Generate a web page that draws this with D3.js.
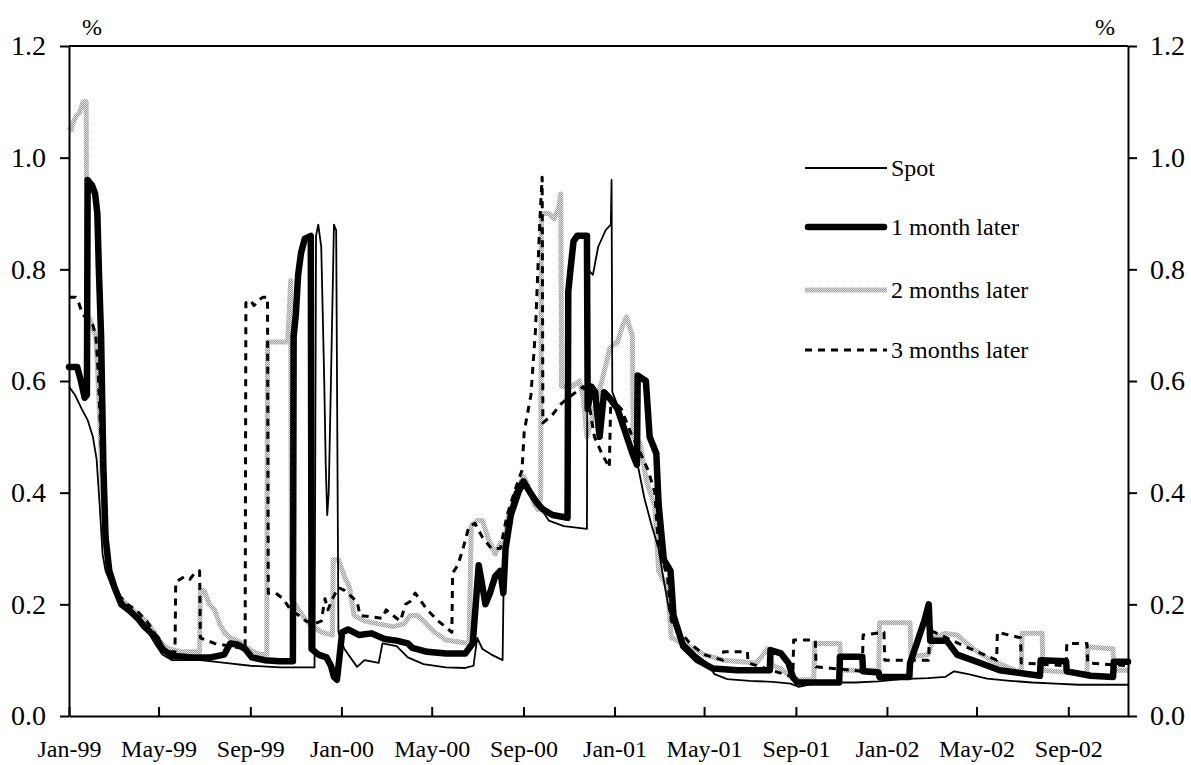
<!DOCTYPE html>
<html>
<head>
<meta charset="utf-8">
<script src="https://cdn.jsdelivr.net/npm/d3@7"></script>
<style>
  body { margin: 0; background: #fff; }
  svg { display: block; font-family: "Liberation Serif", "Times New Roman", serif; }
  .axis path, .axis line { stroke: #000; stroke-width: 2; }
  .axis text { fill: #000; }
  .series { fill: none; stroke-linejoin: round; }
  .spot { stroke: #000; stroke-width: 1.8; }
  .m1 { stroke: #000; stroke-width: 6.5; stroke-linecap: round; }
  .m2 { stroke: url(#stipple); stroke-width: 5; }
  .m3 { stroke: #000; stroke-width: 3; stroke-dasharray: 7 6; }
</style>
</head>
<body>
<svg id="chart"></svg>
<script>
// ---- data ----
const spot = [
  ["1999-01-01",0.59],["1999-01-09",0.575],["1999-01-18",0.55],["1999-01-26",0.53],["1999-02-02",0.50],
  ["1999-02-07",0.46],["1999-02-11",0.38],["1999-02-15",0.29],["1999-02-19",0.26],["1999-02-25",0.24],
  ["1999-03-04",0.22],["1999-03-17",0.20],["1999-04-01",0.18],["1999-04-15",0.155],["1999-04-26",0.13],
  ["1999-05-06",0.11],["1999-05-19",0.10],["1999-06-26",0.10],["1999-07-29",0.095],["1999-09-01",0.09],
  ["1999-10-11",0.087],["1999-11-26",0.087],["1999-11-28",0.86],["1999-12-01",0.88],["1999-12-05",0.84],
  ["1999-12-09",0.60],["1999-12-11",0.45],["1999-12-13",0.36],["1999-12-15",0.40],["1999-12-18",0.60],
  ["1999-12-22",0.88],["1999-12-25",0.87],["1999-12-28",0.15],["2000-01-05",0.12],["2000-01-22",0.088],
  ["2000-02-01",0.10],["2000-02-20",0.095],["2000-02-25",0.13],["2000-03-15",0.125],["2000-03-30",0.105],
  ["2000-04-20",0.093],["2000-05-20",0.087],["2000-06-15",0.086],["2000-06-26",0.09],["2000-07-01",0.14],
  ["2000-07-08",0.12],["2000-07-20",0.11],["2000-08-04",0.10],["2000-08-06",0.30],["2000-08-13",0.36],
  ["2000-08-20",0.40],["2000-08-28",0.42],["2000-09-05",0.41],["2000-09-15",0.39],["2000-09-25",0.37],
  ["2000-10-05",0.35],["2000-10-25",0.34],["2000-11-25",0.335],["2000-11-26",0.80],["2000-12-03",0.79],
  ["2000-12-10",0.84],["2000-12-20",0.87],["2000-12-27",0.88],["2000-12-28",0.96],["2000-12-29",0.58],
  ["2001-01-10",0.54],["2001-01-20",0.50],["2001-02-01",0.45],["2001-02-10",0.39],["2001-02-20",0.34],
  ["2001-03-01",0.30],["2001-03-07",0.25],["2001-03-15",0.19],["2001-03-25",0.15],["2001-04-05",0.13],
  ["2001-04-20",0.11],["2001-05-05",0.095],["2001-05-15",0.075],["2001-06-01",0.066],["2001-07-01",0.063],
  ["2001-08-01",0.061],["2001-08-25",0.058],["2001-09-05",0.052],["2001-09-25",0.058],["2001-10-20",0.06],
  ["2001-11-20",0.06],["2001-12-20",0.062],["2002-01-20",0.066],["2002-02-25",0.068],["2002-03-20",0.07],
  ["2002-04-01",0.08],["2002-04-20",0.075],["2002-05-15",0.067],["2002-06-15",0.063],["2002-07-15",0.06],
  ["2002-08-15",0.058],["2002-09-15",0.056],["2002-11-20",0.056]
];

const oneMonth = [
  ["1999-01-01",0.625],["1999-01-12",0.625],["1999-01-17",0.60],["1999-01-22",0.57],["1999-01-25",0.575],
  ["1999-01-26",0.96],["1999-02-01",0.95],["1999-02-05",0.935],["1999-02-08",0.90],["1999-02-10",0.80],
  ["1999-02-13",0.68],["1999-02-16",0.45],["1999-02-19",0.32],["1999-02-24",0.26],["1999-03-03",0.23],
  ["1999-03-12",0.20],["1999-03-22",0.19],["1999-04-03",0.175],["1999-04-12",0.16],["1999-04-20",0.15],
  ["1999-04-28",0.14],["1999-05-06",0.12],["1999-05-18",0.108],["1999-06-15",0.105],["1999-07-10",0.105],
  ["1999-07-28",0.11],["1999-08-05",0.13],["1999-08-15",0.128],["1999-08-25",0.12],["1999-09-03",0.105],
  ["1999-09-20",0.10],["1999-10-10",0.098],["1999-10-28",0.098],["1999-10-29",0.68],["1999-11-01",0.72],
  ["1999-11-04",0.79],["1999-11-08",0.83],["1999-11-13",0.855],["1999-11-21",0.86],["1999-11-22",0.12],
  ["1999-12-01",0.11],["1999-12-12",0.105],["1999-12-18",0.09],["1999-12-22",0.07],["1999-12-26",0.065],
  ["1999-12-29",0.10],["2000-01-02",0.15],["2000-01-10",0.155],["2000-01-25",0.145],["2000-02-10",0.148],
  ["2000-02-28",0.138],["2000-03-15",0.135],["2000-03-30",0.13],["2000-04-05",0.122],["2000-04-25",0.115],
  ["2000-05-20",0.112],["2000-06-15",0.112],["2000-06-25",0.13],["2000-06-29",0.20],["2000-07-03",0.27],
  ["2000-07-07",0.24],["2000-07-12",0.20],["2000-07-18",0.22],["2000-07-25",0.25],["2000-08-01",0.26],
  ["2000-08-05",0.22],["2000-08-08",0.30],["2000-08-15",0.36],["2000-08-25",0.40],["2000-09-01",0.42],
  ["2000-09-10",0.40],["2000-09-20",0.38],["2000-09-27",0.37],["2000-10-10",0.36],["2000-10-30",0.355],
  ["2000-10-31",0.76],["2000-11-03",0.80],["2000-11-07",0.85],["2000-11-12",0.86],["2000-11-25",0.86],
  ["2000-11-26",0.55],["2000-12-01",0.59],["2000-12-06",0.58],["2000-12-12",0.50],["2000-12-18",0.58],
  ["2000-12-25",0.57],["2001-01-05",0.55],["2001-01-15",0.51],["2001-01-25",0.47],["2001-01-31",0.45],
  ["2001-02-01",0.61],["2001-02-12",0.60],["2001-02-17",0.50],["2001-02-26",0.47],["2001-03-01",0.38],
  ["2001-03-08",0.28],["2001-03-17",0.26],["2001-03-21",0.18],["2001-04-03",0.125],["2001-04-22",0.10],
  ["2001-05-13",0.085],["2001-06-15",0.082],["2001-07-28",0.082],["2001-07-29",0.118],["2001-08-12",0.112],
  ["2001-08-22",0.095],["2001-08-28",0.07],["2001-09-03",0.06],["2001-10-29",0.06],["2001-10-30",0.106],
  ["2001-11-29",0.106],["2001-11-30",0.08],["2001-12-21",0.078],["2001-12-22",0.07],["2002-01-31",0.07],
  ["2002-02-01",0.095],["2002-02-10",0.13],["2002-02-20",0.17],["2002-02-26",0.20],["2002-02-28",0.135],
  ["2002-03-22",0.135],["2002-04-05",0.11],["2002-05-06",0.095],["2002-06-01",0.082],["2002-07-25",0.072],
  ["2002-07-26",0.10],["2002-08-29",0.098],["2002-08-30",0.08],["2002-10-01",0.072],["2002-10-31",0.07],
  ["2002-11-01",0.097],["2002-11-20",0.097]
];

const twoMonths = [
  ["1999-01-01",1.055],["1999-01-04",1.05],["1999-01-07",1.065],["1999-01-11",1.075],["1999-01-15",1.08],
  ["1999-01-20",1.10],["1999-01-24",1.10],["1999-01-25",0.72],["1999-01-29",0.71],["1999-02-03",0.69],
  ["1999-02-06",0.68],["1999-02-09",0.60],["1999-02-12",0.50],["1999-02-15",0.40],["1999-02-18",0.32],
  ["1999-02-22",0.27],["1999-03-01",0.235],["1999-03-10",0.21],["1999-03-20",0.20],["1999-04-01",0.185],
  ["1999-04-15",0.17],["1999-04-25",0.15],["1999-05-05",0.13],["1999-05-15",0.12],["1999-06-01",0.115],
  ["1999-06-25",0.115],["1999-06-26",0.225],["1999-07-01",0.225],["1999-07-08",0.20],["1999-07-15",0.19],
  ["1999-07-22",0.165],["1999-07-28",0.15],["1999-08-05",0.14],["1999-08-15",0.135],["1999-08-25",0.125],
  ["1999-09-05",0.115],["1999-09-15",0.11],["1999-09-23",0.11],["1999-09-24",0.67],["1999-10-21",0.67],
  ["1999-10-23",0.72],["1999-10-25",0.78],["1999-10-26",0.21],["1999-11-05",0.19],["1999-11-15",0.17],
  ["1999-11-25",0.16],["1999-12-05",0.15],["1999-12-20",0.145],["1999-12-21",0.28],["1999-12-28",0.28],
  ["2000-01-05",0.25],["2000-01-12",0.23],["2000-01-18",0.18],["2000-02-01",0.17],["2000-02-20",0.165],
  ["2000-03-10",0.16],["2000-03-25",0.165],["2000-04-02",0.18],["2000-04-12",0.18],["2000-04-20",0.17],
  ["2000-05-05",0.15],["2000-05-20",0.136],["2000-06-20",0.13],["2000-06-23",0.34],["2000-07-01",0.35],
  ["2000-07-08",0.35],["2000-07-15",0.32],["2000-07-25",0.29],["2000-08-01",0.31],["2000-08-05",0.30],
  ["2000-08-12",0.36],["2000-08-22",0.40],["2000-09-01",0.43],["2000-09-08",0.41],["2000-09-15",0.38],
  ["2000-09-20",0.37],["2000-09-24",0.39],["2000-09-25",0.90],["2000-10-05",0.90],["2000-10-12",0.89],
  ["2000-10-18",0.91],["2000-10-21",0.935],["2000-10-22",0.59],["2000-11-05",0.59],["2000-11-15",0.60],
  ["2000-11-20",0.57],["2000-11-25",0.50],["2000-12-05",0.55],["2000-12-15",0.60],["2000-12-26",0.66],
  ["2001-01-05",0.67],["2001-01-12",0.70],["2001-01-17",0.715],["2001-01-25",0.68],["2001-01-26",0.50],
  ["2001-02-04",0.49],["2001-02-13",0.42],["2001-02-24",0.375],["2001-03-01",0.26],["2001-03-13",0.23],
  ["2001-03-18",0.14],["2001-04-12",0.124],["2001-05-01",0.11],["2001-05-27",0.10],["2001-07-10",0.095],
  ["2001-07-25",0.12],["2001-08-01",0.09],["2001-08-12",0.085],["2001-08-28",0.065],["2001-09-25",0.065],
  ["2001-09-26",0.13],["2001-10-30",0.13],["2001-10-31",0.082],["2001-12-21",0.082],["2001-12-22",0.167],
  ["2002-02-01",0.167],["2002-02-02",0.106],["2002-02-25",0.11],["2002-03-05",0.14],["2002-03-20",0.148],
  ["2002-04-05",0.145],["2002-04-27",0.12],["2002-05-20",0.10],["2002-06-25",0.08],["2002-06-30",0.08],
  ["2002-07-01",0.148],["2002-07-28",0.148],["2002-07-29",0.082],["2002-09-26",0.075],["2002-09-27",0.124],
  ["2002-10-31",0.12],["2002-11-01",0.082],["2002-11-20",0.082]
];

const threeMonths = [
  ["1999-01-01",0.75],["1999-01-10",0.75],["1999-01-14",0.74],["1999-01-19",0.72],["1999-01-26",0.71],
  ["1999-02-02",0.70],["1999-02-06",0.68],["1999-02-09",0.62],["1999-02-12",0.52],["1999-02-15",0.42],
  ["1999-02-18",0.32],["1999-02-22",0.27],["1999-03-01",0.24],["1999-03-10",0.215],["1999-03-20",0.20],
  ["1999-04-01",0.19],["1999-04-15",0.17],["1999-04-25",0.15],["1999-05-05",0.125],["1999-05-15",0.115],
  ["1999-05-23",0.115],["1999-05-24",0.24],["1999-05-30",0.245],["1999-06-05",0.25],["1999-06-12",0.245],
  ["1999-06-18",0.255],["1999-06-25",0.26],["1999-06-26",0.14],["1999-07-15",0.13],["1999-08-05",0.125],
  ["1999-08-25",0.12],["1999-08-26",0.74],["1999-09-01",0.745],["1999-09-06",0.735],["1999-09-12",0.745],
  ["1999-09-18",0.75],["1999-09-24",0.75],["1999-09-25",0.22],["1999-10-05",0.22],["1999-10-15",0.21],
  ["1999-10-25",0.19],["1999-11-05",0.18],["1999-11-15",0.17],["1999-11-25",0.165],["1999-12-05",0.17],
  ["1999-12-10",0.21],["1999-12-14",0.19],["1999-12-20",0.21],["1999-12-28",0.23],["2000-01-05",0.225],
  ["2000-01-22",0.205],["2000-01-26",0.18],["2000-02-25",0.175],["2000-03-01",0.19],["2000-03-15",0.175],
  ["2000-03-20",0.17],["2000-03-27",0.20],["2000-04-02",0.205],["2000-04-09",0.22],["2000-04-25",0.19],
  ["2000-05-10",0.17],["2000-05-28",0.15],["2000-05-29",0.256],["2000-06-05",0.27],["2000-06-12",0.30],
  ["2000-06-20",0.34],["2000-06-28",0.345],["2000-07-08",0.32],["2000-07-20",0.30],["2000-08-01",0.30],
  ["2000-08-10",0.36],["2000-08-22",0.41],["2000-08-30",0.44],["2000-09-02",0.51],["2000-09-11",0.575],
  ["2000-09-17",0.69],["2000-09-20",0.79],["2000-09-23",0.89],["2000-09-26",0.965],["2000-09-27",0.525],
  ["2000-10-10",0.54],["2000-10-22",0.56],["2000-11-05",0.575],["2000-11-20",0.59],["2000-11-26",0.575],
  ["2000-12-05",0.50],["2000-12-15",0.47],["2000-12-25",0.445],["2000-12-27",0.57],["2001-01-10",0.55],
  ["2001-01-25",0.50],["2001-02-05",0.47],["2001-02-15",0.44],["2001-02-24",0.40],["2001-03-01",0.30],
  ["2001-03-13",0.25],["2001-03-18",0.17],["2001-04-12",0.13],["2001-05-01",0.11],["2001-05-26",0.10],
  ["2001-05-27",0.115],["2001-06-28",0.115],["2001-06-29",0.095],["2001-08-28",0.07],["2001-08-29",0.136],
  ["2001-09-27",0.136],["2001-09-28",0.088],["2001-11-29",0.08],["2001-11-30",0.145],["2001-12-28",0.15],
  ["2001-12-29",0.10],["2002-02-26",0.10],["2002-02-27",0.154],["2002-03-22",0.14],["2002-04-15",0.125],
  ["2002-05-28",0.10],["2002-05-29",0.15],["2002-06-29",0.14],["2002-06-30",0.095],["2002-08-29",0.09],
  ["2002-08-30",0.13],["2002-09-26",0.13],["2002-09-27",0.095],["2002-11-20",0.09]
];

const seriesNames = ["Spot", "1 month later", "2 months later", "3 months later"];
const seriesClasses = ["spot", "m1", "m2", "m3"];
const xTicks = ["1999-01-01","1999-05-01","1999-09-01","2000-01-01","2000-05-01","2000-09-01",
                "2001-01-01","2001-05-01","2001-09-01","2002-01-01","2002-05-01","2002-09-01"];
const yTicks = [0, 0.2, 0.4, 0.6, 0.8, 1.0, 1.2];
const xDomain = ["1999-01-01", "2002-11-20"];

const parseDate = d3.utcParse("%Y-%m-%d");

class ForwardChart {
    constructor(_config, _series) {
        this.series = _series;
        this.config = {
            parentElement: _config.parentElement || 'body',
            width: _config.width || 1191,
            height: _config.height || 765,
            margin: _config.margin || { top: 46, right: 63, bottom: 49, left: 69 }
        };
        this.initVis();
    }

    initVis() {
        const that = this;

        that.boundedWidth = that.config.width - that.config.margin.left - that.config.margin.right;
        that.boundedHeight = that.config.height - that.config.margin.top - that.config.margin.bottom;

        // scales
        that.xScale = d3.scaleUtc()
            .domain(xDomain.map(parseDate))
            .range([0, that.boundedWidth]);

        that.yScale = d3.scaleLinear()
            .domain([0, 1.2])
            .range([that.boundedHeight, 0]);

        // axes: x ticks point up into the plot, y ticks point outwards
        that.xAxis = d3.axisBottom(that.xScale)
            .tickValues(xTicks.map(parseDate))
            .tickFormat(d3.utcFormat("%b-%y"))
            .tickSizeInner(-9)
            .tickSizeOuter(0)
            .tickPadding(24);

        that.yAxisLeft = d3.axisLeft(that.yScale)
            .tickValues(yTicks)
            .tickFormat(d3.format(".1f"))
            .tickSizeInner(9)
            .tickSizeOuter(0)
            .tickPadding(14);

        that.yAxisRight = d3.axisRight(that.yScale)
            .tickValues(yTicks)
            .tickFormat(d3.format(".1f"))
            .tickSizeInner(9)
            .tickSizeOuter(0)
            .tickPadding(13);

        that.wrapper = d3.select(that.config.parentElement)
            .attr('width', that.config.width)
            .attr('height', that.config.height);

        // stippled grey for the 2 months series
        const pat = that.wrapper.append('defs').append('pattern')
            .attr('id', 'stipple')
            .attr('width', 2)
            .attr('height', 2)
            .attr('patternUnits', 'userSpaceOnUse');
        pat.append('rect').attr('width', 2).attr('height', 2).attr('fill', '#e2e2e2');
        pat.append('rect').attr('width', 1).attr('height', 1).attr('fill', '#9c9c9c');
        pat.append('rect').attr('x', 1).attr('y', 1).attr('width', 1).attr('height', 1).attr('fill', '#9c9c9c');

        that.bounds = that.wrapper.append('g')
            .attr('transform', `translate(${that.config.margin.left}, ${that.config.margin.top})`);

        that.linesG = that.bounds.append('g');

        // frame top line
        that.bounds.append('line')
            .attr('x1', 0).attr('x2', that.boundedWidth)
            .attr('y1', 0).attr('y2', 0)
            .attr('stroke', '#000').attr('stroke-width', 2);

        that.xAxisG = that.bounds.append('g')
            .attr('class', 'axis')
            .attr('transform', `translate(0, ${that.boundedHeight})`);
        that.yAxisLeftG = that.bounds.append('g').attr('class', 'axis');
        that.yAxisRightG = that.bounds.append('g')
            .attr('class', 'axis')
            .attr('transform', `translate(${that.boundedWidth}, 0)`);

        // unit labels
        that.bounds.append('text')
            .attr('x', 23).attr('y', -11)
            .attr('text-anchor', 'middle')
            .attr('font-size', 24)
            .text('%');
        that.bounds.append('text')
            .attr('x', that.boundedWidth - 23).attr('y', -11)
            .attr('text-anchor', 'middle')
            .attr('font-size', 24)
            .text('%');

        that.legendG = that.bounds.append('g')
            .attr('transform', `translate(${805 - that.config.margin.left}, ${168 - that.config.margin.top})`);

        that.updateVis();
    }

    updateVis() {
        const that = this;
        that.xAccessor = d => parseDate(d[0]);
        that.yAccessor = d => d[1];
        that.lineGen = d3.line()
            .x(d => that.xScale(that.xAccessor(d)))
            .y(d => that.yScale(that.yAccessor(d)));
        that.renderVis();
    }

    renderVis() {
        const that = this;

        // draw order: grey, thick, dashed, spot
        const order = [2, 1, 3, 0];
        that.linesG.selectAll('path')
            .data(order.map(i => ({ cls: seriesClasses[i], values: that.series[i] })))
            .join('path')
            .attr('class', d => `series ${d.cls}`)
            .attr('d', d => that.lineGen(d.values));

        that.xAxisG.call(that.xAxis)
            .call(g => g.selectAll('text').attr('font-size', 24));
        that.yAxisLeftG.call(that.yAxisLeft)
            .call(g => g.selectAll('text').attr('font-size', 28));
        that.yAxisRightG.call(that.yAxisRight)
            .call(g => g.selectAll('text').attr('font-size', 28));
        // drop the sans-serif default d3 puts on axis groups
        that.wrapper.selectAll('.axis').attr('font-family', null).attr('font-size', null);

        // legend
        const rowGap = [0, 59, 122, 182];
        const items = that.legendG.selectAll('g')
            .data(seriesNames)
            .join('g')
            .attr('transform', (d, i) => `translate(0, ${rowGap[i]})`);
        items.append('line')
            .attr('class', (d, i) => `series ${seriesClasses[i]}`)
            .attr('x1', (d, i) => i === 1 ? 3 : 0)
            .attr('x2', (d, i) => i === 1 ? 79 : 82)
            .attr('y1', 0).attr('y2', 0);
        items.append('text')
            .attr('x', 86)
            .attr('y', 8)
            .attr('font-size', 24)
            .text(d => d);
    }
}

new ForwardChart({ parentElement: '#chart' }, [spot, oneMonth, twoMonths, threeMonths]);
</script>
</body>
</html>
